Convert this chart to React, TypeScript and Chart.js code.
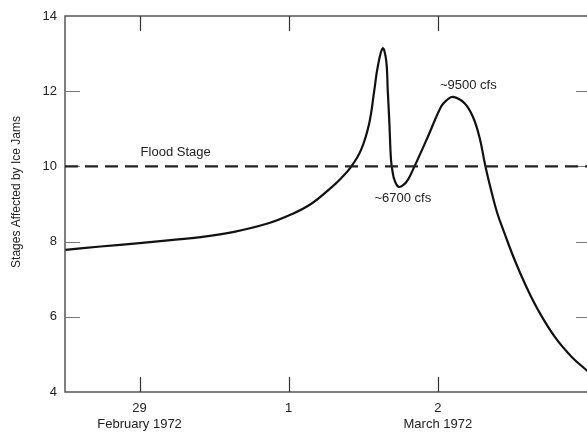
import React, { useEffect, useRef } from "react";
import { Chart, registerables } from "chart.js";

Chart.register(...registerables);

// x = days after 29 February 1972 (0 = Feb 29, 1 = Mar 1, 2 = Mar 2)
const stageX = [
  -0.497, -0.262, 0.0, 0.208, 0.41, 0.634, 0.858, 1.015, 1.149, 1.283,
  1.35, 1.418, 1.485, 1.54, 1.574, 1.597, 1.63, 1.653, 1.664, 1.675,
  1.686, 1.698, 1.709, 1.735, 1.767, 1.8, 1.841, 1.933, 2.022, 2.056,
  2.101, 2.179, 2.235, 2.28, 2.318, 2.358, 2.398, 2.447, 2.515, 2.593,
  2.672, 2.783, 2.896, 3.008,
];
const stageY = [
  7.78, 7.87, 7.96, 8.04, 8.12, 8.26, 8.48, 8.72, 9.0, 9.43,
  9.68, 9.99, 10.44, 11.15, 12.03, 12.65, 13.14, 12.83, 12.03, 11.15,
  10.17, 9.82, 9.64, 9.46, 9.5, 9.65, 9.98, 10.79, 11.59, 11.75,
  11.85, 11.68, 11.32, 10.76, 10.02, 9.35, 8.76, 8.22, 7.51, 6.8,
  6.18, 5.47, 4.94, 4.54,
];

const floodStage = 10;
const xMin = -0.5;
const xMax = 3.0;
const yMin = 4;
const yMax = 14;
const xTickValues = [0, 1, 2];
const xTickDays = ["29", "1", "2"];
const xTickMonths = ["February 1972", "", "March 1972"];
const yTickMarks = [6, 8, 10, 12];
const yAxisTitle = "Stages Affected by Ice Jams";

const annotationTexts = ["Flood Stage", "~6700 cfs", "~9500 cfs"];
const annotationX = [0.242, 1.765, 2.204];
const annotationY = [10.38, 9.15, 12.16];

const FONT = "'Liberation Sans', Arial, sans-serif";

export default function App() {
  const canvasRef = useRef<HTMLCanvasElement | null>(null);

  useEffect(() => {
    document.body.style.margin = "0";
    const canvas = canvasRef.current;
    if (!canvas) return;

    const framePlugin = {
      id: "frame",
      beforeDatasetsDraw(chart: any) {
        const ctx = chart.ctx;
        const { left, right, top, bottom } = chart.chartArea;
        const xs = chart.scales.x;
        const ys = chart.scales.y;
        ctx.save();
        ctx.strokeStyle = "#555";
        ctx.lineWidth = 1.5;
        ctx.beginPath();
        ctx.moveTo(right, top);
        ctx.lineTo(left, top);
        ctx.lineTo(left, bottom);
        ctx.lineTo(right, bottom);
        ctx.stroke();
        ctx.strokeStyle = "#333";
        ctx.lineWidth = 1.2;
        ctx.beginPath();
        xTickValues.forEach((v) => {
          const px = Math.round(xs.getPixelForValue(v)) + 0.5;
          ctx.moveTo(px, top);
          ctx.lineTo(px, top + 15);
          ctx.moveTo(px, bottom);
          ctx.lineTo(px, bottom - 15);
        });
        ctx.stroke();
        ctx.strokeStyle = "#777";
        ctx.beginPath();
        yTickMarks.forEach((v) => {
          const py = Math.round(ys.getPixelForValue(v)) + 0.5;
          ctx.moveTo(left, py);
          ctx.lineTo(left + 15, py);
          ctx.moveTo(right - 11, py);
          ctx.lineTo(right, py);
        });
        ctx.stroke();
        ctx.restore();
      },
      afterDraw(chart: any) {
        const ctx = chart.ctx;
        const xs = chart.scales.x;
        const ys = chart.scales.y;
        ctx.save();
        ctx.fillStyle = "#222";
        ctx.font = `13px ${FONT}`;
        ctx.textAlign = "center";
        ctx.textBaseline = "middle";
        annotationTexts.forEach((t, i) => {
          ctx.fillText(
            t,
            xs.getPixelForValue(annotationX[i]),
            ys.getPixelForValue(annotationY[i])
          );
        });
        ctx.translate(16.5, 192);
        ctx.rotate(-Math.PI / 2);
        ctx.font = `12px ${FONT}`;
        ctx.fillText(yAxisTitle, 0, 0);
        ctx.restore();
      },
    };

    const chart = new Chart(canvas, {
      type: "line",
      data: {
        datasets: [
          {
            data: [
              { x: xMin, y: floodStage },
              { x: xMax, y: floodStage },
            ],
            borderColor: "#222",
            borderWidth: 2.2,
            borderDash: [13, 7],
            pointRadius: 0,
            fill: false,
          },
          {
            data: stageX.map((x, i) => ({ x, y: stageY[i] })),
            borderColor: "#111",
            borderWidth: 2.2,
            pointRadius: 0,
            tension: 0.4,
            fill: false,
          },
        ],
      },
      options: {
        responsive: false,
        animation: false,
        layout: { padding: { top: 16, right: 0, left: 0, bottom: 0 } },
        plugins: {
          legend: { display: false },
          tooltip: { enabled: false },
        },
        scales: {
          x: {
            type: "linear",
            min: xMin,
            max: xMax,
            grid: { display: false, drawTicks: false },
            border: { display: false },
            afterBuildTicks: (scale: any) => {
              scale.ticks = xTickValues.map((v) => ({ value: v }));
            },
            afterFit: (scale: any) => {
              scale.height = 41;
            },
            ticks: {
              padding: 8,
              autoSkip: false,
              maxRotation: 0,
              color: "#222",
              font: { family: FONT, size: 13, lineHeight: 1.25 },
              callback: (v: any) => {
                const i = xTickValues.indexOf(Number(v));
                if (i < 0) return "";
                return [xTickDays[i], xTickMonths[i] || " "];
              },
            },
          },
          y: {
            type: "linear",
            min: yMin,
            max: yMax,
            grid: { display: false, drawTicks: false },
            border: { display: false },
            afterFit: (scale: any) => {
              scale.width = 65;
            },
            ticks: {
              stepSize: 2,
              padding: 8,
              color: "#222",
              font: { family: FONT, size: 13 },
            },
          },
        },
      },
      plugins: [framePlugin],
    } as any);

    return () => chart.destroy();
  }, []);

  return (
    <div style={{ width: 587, height: 433, background: "#fff" }}>
      <canvas ref={canvasRef} width={587} height={433} style={{ display: "block" }} />
    </div>
  );
}
